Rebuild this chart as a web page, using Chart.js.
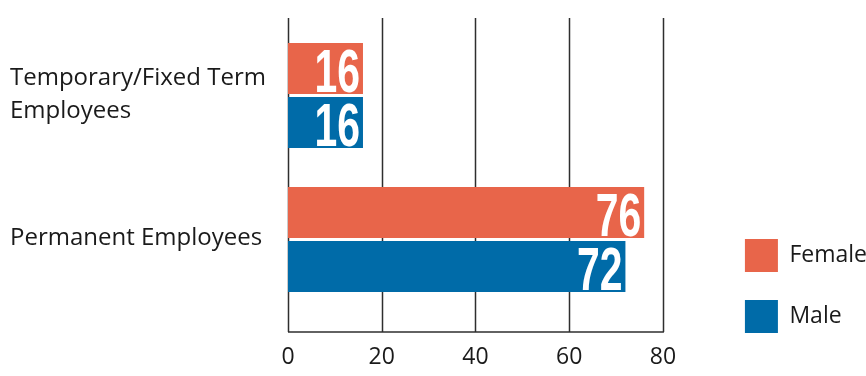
<!DOCTYPE html>
<html>
<head>
<meta charset="utf-8">
<script src="https://cdn.jsdelivr.net/npm/chart.js@4"></script>
<style>
  html, body { margin: 0; padding: 0; background: #fff; }
  #wrap { width: 866px; height: 376px; }
</style>
</head>
<body>
<div id="wrap"><canvas id="chart"></canvas></div>
<script>
const categories = [['Temporary/Fixed Term', 'Employees'], 'Permanent Employees'];
const femaleValues = [16, 76];
const maleValues = [16, 72];
const xTicks = [0, 20, 40, 60, 80];

const femaleColor = '#E8654A';
const maleColor = '#006BA8';
const gridColor = '#2e2e2e';
const textColor = '#1a1a1a';

// grid lines run a little past the plot area, like the original
const gridPlugin = {
    id: 'extendedGrid',
    beforeDatasetsDraw(chart) {
        const { ctx, chartArea, scales } = chart;
        const x = scales.x;
        const top = chartArea.top - 5.5;
        const bottom = chartArea.bottom + 20.5;
        ctx.save();
        ctx.strokeStyle = gridColor;
        ctx.lineWidth = 1.5;
        x.ticks.forEach(t => {
            const px = Math.round(x.getPixelForValue(t.value)) + 0.5;
            ctx.beginPath();
            ctx.moveTo(px, top);
            ctx.lineTo(px, bottom);
            ctx.stroke();
        });
        ctx.beginPath();
        ctx.moveTo(x.getPixelForValue(xTicks[0]), bottom);
        ctx.lineTo(x.getPixelForValue(xTicks[xTicks.length - 1]) + 1, bottom);
        ctx.stroke();
        ctx.restore();
    }
};

// big condensed white numbers at the end of each bar
const valueLabels = {
    id: 'valueLabels',
    afterDatasetsDraw(chart) {
        const { ctx } = chart;
        ctx.save();
        ctx.fillStyle = '#ffffff';
        ctx.font = 'bold 62px "Liberation Sans", Arial, sans-serif';
        ctx.textAlign = 'right';
        ctx.textBaseline = 'alphabetic';
        chart.data.datasets.forEach((ds, i) => {
            chart.getDatasetMeta(i).data.forEach((bar, j) => {
                ctx.save();
                ctx.translate(bar.x - 3, bar.y + 23);
                ctx.scale(0.66, 1);
                ctx.fillText(String(ds.data[j]), 0, 0);
                ctx.restore();
            });
        });
        ctx.restore();
    }
};

// push the legend away from the plot and lift it a little
const legendShift = {
    id: 'legendShift',
    afterLayout(chart) {
        const lg = chart.legend;
        const dx = chart.chartArea.right + 54 - lg.left;
        lg.left += dx;
        lg.right += dx;
        lg.top -= 15;
        lg.bottom -= 15;
    }
};

new Chart(document.getElementById('chart'), {
    type: 'bar',
    data: {
        labels: categories,
        datasets: [
            {
                label: 'Female',
                data: femaleValues,
                backgroundColor: femaleColor,
                categoryPercentage: 0.75,
                barPercentage: 0.944
            },
            {
                label: 'Male',
                data: maleValues,
                backgroundColor: maleColor,
                categoryPercentage: 0.75,
                barPercentage: 0.944
            }
        ]
    },
    options: {
        indexAxis: 'y',
        responsive: true,
        maintainAspectRatio: false,
        animation: false,
        layout: {
            padding: { left: 10, top: 23.5, right: 43, bottom: 0 }
        },
        scales: {
            x: {
                min: 0,
                max: 80,
                afterBuildTicks(scale) {
                    scale.ticks = xTicks.map(v => ({ value: v }));
                },
                afterFit(scale) {
                    scale.height = 64.5;
                },
                grid: { display: false, drawTicks: false },
                border: { display: false },
                ticks: {
                    padding: 32,
                    color: textColor,
                    font: { family: '"Open Sans", sans-serif', size: 23 }
                }
            },
            y: {
                afterFit(scale) {
                    scale.width = 278;
                },
                grid: { display: false, drawTicks: false },
                border: { display: false },
                ticks: {
                    crossAlign: 'far',
                    labelOffset: c => (c.index === 0 ? -4 : -1),
                    color: textColor,
                    font: { family: '"Open Sans", sans-serif', size: 24, lineHeight: 1.375 }
                }
            }
        },
        plugins: {
            tooltip: { enabled: false },
            legend: {
                position: 'right',
                align: 'end',
                labels: {
                    boxWidth: 33,
                    boxHeight: 33,
                    padding: 28,
                    color: textColor,
                    font: { family: '"Open Sans", sans-serif', size: 23 }
                }
            }
        }
    },
    plugins: [gridPlugin, valueLabels, legendShift]
});
</script>
</body>
</html>
